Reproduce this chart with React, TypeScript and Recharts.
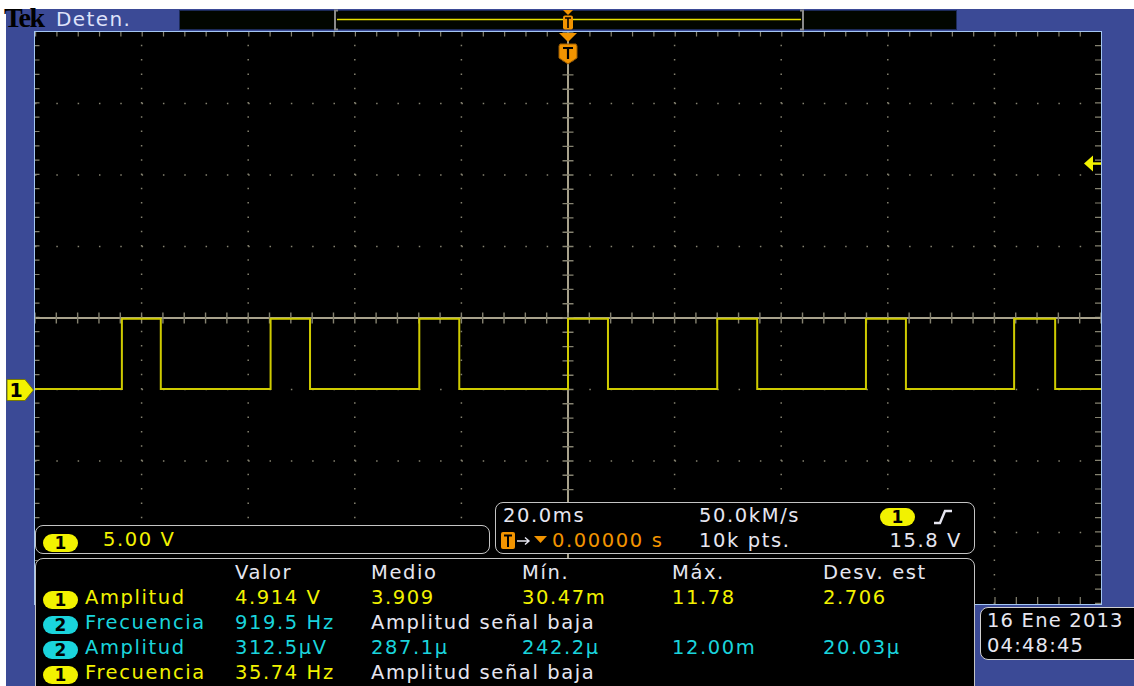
import React from 'react';
import { LineChart, Line, XAxis, YAxis, ReferenceLine, ReferenceDot } from 'recharts';

// square wave (ms, volts)
const riseMs = [-83.7, -55.8, -27.9, 0, 28.0, 55.9, 83.7];
const fallMs = [-76.4, -48.4, -20.4, 7.5, 35.5, 63.4, 91.4];
const lowV = 0.03;
const highV = 4.94;
const triggerV = 15.8;

// graticule: 20 ms/div, 5 V/div
const timeDomain: [number, number] = [-100, 100];
const voltDomain: [number, number] = [-15, 25];
const timeDivs = [-80, -60, -40, -20, 20, 40, 60, 80];
const voltDivs = [-10, -5, 0, 10, 15, 20];
const centerT = 0;
const centerV = 5;

// measurements table
const colHeads = ['Valor', 'Medio', 'Mín.', 'Máx.', 'Desv. est'];
const measChannel = [1, 2, 2, 1];
const measName = ['Amplitud', 'Frecuencia', 'Amplitud', 'Frecuencia'];
const measValor = ['4.914 V', '919.5 Hz', '312.5µV', '35.74 Hz'];
const measMedio = ['3.909', 'Amplitud señal baja', '287.1µ', 'Amplitud señal baja'];
const measMin = ['30.47m', '', '242.2µ', ''];
const measMax = ['11.78', '', '12.00m', ''];
const measDesv = ['2.706', '', '20.03µ', ''];

const wave: { t: number; v: number }[] = [{ t: timeDomain[0], v: lowV }];
riseMs.forEach((r, i) => {
  wave.push({ t: r, v: lowV }, { t: r, v: highV }, { t: fallMs[i], v: highV }, { t: fallMs[i], v: lowV });
});
wave.push({ t: timeDomain[1], v: lowV });

const FONT = "'DejaVu Sans', Verdana, sans-serif";
const BLUE = '#3b4a96';
const YEL = '#f2f200';
const CYAN = '#1ad4dc';
const WHITE = '#e6e6f0';
const ORANGE = '#f29400';
const DOT = '#858270';
const CROSS = '#a8a28c';

const PLOT = { left: 35, top: 32, width: 1066, height: 572 };
const vToY = (v: number) =>
  PLOT.top + ((voltDomain[1] - v) / (voltDomain[1] - voltDomain[0])) * PLOT.height;

function Txt({ x, y, color, children, right, size = 19.5, ls = 1.6 }: any) {
  const style: React.CSSProperties = {
    position: 'absolute',
    top: y - 17,
    fontFamily: FONT,
    fontSize: size,
    lineHeight: '20px',
    letterSpacing: ls,
    color,
    whiteSpace: 'pre',
  };
  if (right !== undefined) style.right = right;
  else style.left = x;
  return <div style={style}>{children}</div>;
}

function Pill({ x, y, ch }: { x: number; y: number; ch: number }) {
  return (
    <div
      style={{
        position: 'absolute',
        left: x,
        top: y,
        width: 35,
        height: 18,
        borderRadius: 9,
        background: ch === 1 ? YEL : CYAN,
        color: '#000',
        fontFamily: FONT,
        fontWeight: 'bold',
        fontSize: 17,
        lineHeight: '18px',
        textAlign: 'center',
      }}
    >
      {ch}
    </div>
  );
}

const TriggerArrow = (props: any) => {
  const { cx, cy } = props;
  return (
    <g>
      <line x1={cx - 10} y1={cy} x2={cx} y2={cy} stroke={YEL} strokeWidth={2.5} />
      <path d={`M ${cx - 17} ${cy} L ${cx - 8} ${cy - 8} L ${cx - 8} ${cy + 8} Z`} fill={YEL} />
    </g>
  );
};

function Scope() {
  return (
    <LineChart
      width={PLOT.width}
      height={PLOT.height}
      data={wave}
      margin={{ top: 0, right: 0, bottom: 0, left: 0 }}
      style={{ background: '#000' }}
    >
      <XAxis dataKey="t" type="number" domain={timeDomain} hide allowDataOverflow />
      <YAxis type="number" domain={voltDomain} hide width={0} allowDataOverflow />
      {timeDivs.map((t) => (
        <ReferenceLine key={'vt' + t} x={t} stroke={DOT} strokeWidth={1.5} strokeDasharray="1.5 12.8" />
      ))}
      {voltDivs.map((v) => (
        <ReferenceLine key={'hv' + v} y={v} stroke={DOT} strokeWidth={1.5} strokeDasharray="1.5 19.82" />
      ))}
      {/* edge ticks */}
      <ReferenceLine y={voltDomain[1]} stroke={DOT} strokeWidth={9} strokeDasharray="1.2 20.12" />
      <ReferenceLine y={voltDomain[0]} stroke={DOT} strokeWidth={14} strokeDasharray="1.2 20.12" />
      <ReferenceLine x={timeDomain[0]} stroke={DOT} strokeWidth={9} strokeDasharray="1.2 13.1" />
      <ReferenceLine x={timeDomain[1]} stroke={DOT} strokeWidth={12} strokeDasharray="1.2 13.1" />
      {/* crosshair */}
      <ReferenceLine y={centerV} stroke={CROSS} strokeWidth={2} />
      <ReferenceLine x={centerT} stroke={CROSS} strokeWidth={2} />
      <ReferenceLine y={centerV} stroke={DOT} strokeWidth={11} strokeDasharray="1.4 19.92" strokeDashoffset={0.7} />
      <ReferenceLine x={centerT} stroke={DOT} strokeWidth={11} strokeDasharray="1.4 12.9" strokeDashoffset={0.7} />
      <Line
        dataKey="v"
        type="linear"
        stroke="#cfcb00"
        strokeWidth={2}
        dot={false}
        isAnimationActive={false}
      />
      <ReferenceDot x={timeDomain[1]} y={triggerV} ifOverflow="visible" shape={TriggerArrow} />
    </LineChart>
  );
}

export default function App() {
  const groundY = vToY(0);
  const rowBase = [605, 630, 655, 680];
  const colX = [235, 371, 522, 672, 823];
  const rowColor = (ch: number) => (ch === 1 ? YEL : CYAN);
  return (
    <div style={{ position: 'absolute', left: 0, top: 0, width: 1134, height: 686, background: '#fff', overflow: 'hidden' }}>
      <div style={{ position: 'absolute', left: 6, top: 9, width: 1128, height: 677, background: BLUE }} />

      {/* header */}
      <div
        style={{
          position: 'absolute',
          left: 4,
          top: 3,
          fontFamily: "'Liberation Serif', serif",
          fontWeight: 'bold',
          fontSize: 28,
          lineHeight: '30px',
          letterSpacing: -1.5,
          color: '#000',
        }}
      >
        Tek
      </div>
      <div style={{ position: 'absolute', left: 56, top: 9, fontFamily: FONT, fontSize: 20, lineHeight: '20px', letterSpacing: 1.4, color: '#dfe2fa' }}>
        Deten.
      </div>
      <div style={{ position: 'absolute', left: 179, top: 10, width: 778, height: 20, background: '#020600', boxShadow: 'inset 0 0 0 1px #1c2a58' }} />
      <svg style={{ position: 'absolute', left: 0, top: 0 }} width={1134} height={40}>
        <line x1={337} y1={19.5} x2={801} y2={19.5} stroke="#e6e000" strokeWidth={1.5} />
        <path d="M 338 10.5 L 335 10.5 L 335 29.5 L 338 29.5" fill="none" stroke="#8a8a8a" strokeWidth={2} />
        <path d="M 800 10.5 L 803 10.5 L 803 29.5 L 800 29.5" fill="none" stroke="#8a8a8a" strokeWidth={2} />
        <path d="M 563 10 L 573 10 L 568 15 Z" fill={ORANGE} />
        <rect x={563} y={15.5} width={10} height={14} rx={2} fill={ORANGE} />
        <path d="M 565 18 L 571 18 M 568 18 L 568 28" stroke="#000" strokeWidth={1.6} />
      </svg>

      {/* graticule */}
      <div style={{ position: 'absolute', left: 34, top: 31, width: 1066, height: 572, border: '1px solid #a4c6f2' }} />
      <div style={{ position: 'absolute', left: PLOT.left, top: PLOT.top }}>
        <Scope />
      </div>

      {/* trigger position marker */}
      <svg style={{ position: 'absolute', left: 0, top: 0 }} width={1134} height={80}>
        <path d="M 559 33 L 577 33 L 568 42 Z" fill={ORANGE} />
        <path d="M 560 44 L 576 44 L 577 46 L 577 58 L 568 64 L 559 58 L 559 46 Z" fill={ORANGE} stroke="#9a5a00" strokeWidth={1} />
        <path d="M 563 48 L 573 48 M 568 48 L 568 59" stroke="#000" strokeWidth={2.2} />
      </svg>

      {/* channel 1 ground marker */}
      <svg style={{ position: 'absolute', left: 0, top: groundY - 12 }} width={40} height={24}>
        <path d="M 7 1.5 L 25 1.5 L 33.5 12 L 25 22.5 L 7 22.5 Z" fill={YEL} stroke="#7a7a00" strokeWidth={1} />
        <text x={16} y={19} fontFamily={FONT} fontWeight="bold" fontSize={19} fill="#000" textAnchor="middle">
          1
        </text>
      </svg>

      {/* vertical scale box */}
      <div style={{ position: 'absolute', left: 35, top: 525, width: 453, height: 27, border: '1.5px solid #c4c4c4', borderRadius: 8, background: '#000' }} />
      <Pill x={43} y={534} ch={1} />
      <Txt x={103} y={547} color={YEL}>5.00 V</Txt>

      {/* timebase box */}
      <div style={{ position: 'absolute', left: 495, top: 502, width: 478, height: 50, border: '1.5px solid #c4c4c4', borderRadius: 8, background: '#000' }} />
      <Txt x={503} y={523} color={WHITE}>20.0ms</Txt>
      <Txt x={699} y={523} color={WHITE}>50.0kM/s</Txt>
      <Pill x={880} y={508} ch={1} />
      <svg style={{ position: 'absolute', left: 930, top: 506 }} width={26} height={22}>
        <path d="M 4 17 L 10 17 L 15 5 L 22 5" fill="none" stroke={WHITE} strokeWidth={2.4} />
      </svg>
      <svg style={{ position: 'absolute', left: 498, top: 530 }} width={56} height={22}>
        <rect x={3} y={2} width={14} height={17} rx={2} fill={ORANGE} />
        <path d="M 6 5.5 L 14 5.5 M 10 5.5 L 10 17" stroke="#000" strokeWidth={2} />
        <path d="M 19 11 L 31 11 M 27 7.5 L 31 11 L 27 14.5" fill="none" stroke={WHITE} strokeWidth={1.4} />
        <path d="M 36 6 L 49 6 L 42.5 13 Z" fill={ORANGE} />
      </svg>
      <Txt x={552} y={548} color={ORANGE}>0.00000 s</Txt>
      <Txt x={699} y={548} color={WHITE}>10k pts.</Txt>
      <Txt right={172} y={548} color={WHITE}>15.8 V</Txt>

      {/* measurements */}
      <div style={{ position: 'absolute', left: 35, top: 558, width: 938, height: 160, border: '1.5px solid #c4c4c4', borderRadius: 8, background: '#000' }} />
      {colHeads.map((h, i) => (
        <Txt key={h} x={colX[i]} y={580} color={WHITE}>
          {h}
        </Txt>
      ))}
      {measName.map((name, r) => {
        const c = rowColor(measChannel[r]);
        const cells = [measValor[r], measMedio[r], measMin[r], measMax[r], measDesv[r]];
        return (
          <React.Fragment key={r}>
            <Pill x={43} y={rowBase[r] - 14} ch={measChannel[r]} />
            <Txt x={85} y={rowBase[r]} color={c}>
              {name}
            </Txt>
            {cells.map((cell, i) =>
              cell ? (
                <Txt key={i} x={colX[i]} y={rowBase[r]} color={cell.startsWith('Amplitud') ? WHITE : c}>
                  {cell}
                </Txt>
              ) : null
            )}
          </React.Fragment>
        );
      })}

      {/* date box */}
      <div style={{ position: 'absolute', left: 980, top: 607, width: 170, height: 51, border: '1.5px solid #d0d0d0', borderRadius: 8, background: '#000' }} />
      <Txt x={987} y={628} color={WHITE} ls={1.2}>16 Ene 2013</Txt>
      <Txt x={987} y={653} color={WHITE} ls={1.2}>04:48:45</Txt>
    </div>
  );
}
